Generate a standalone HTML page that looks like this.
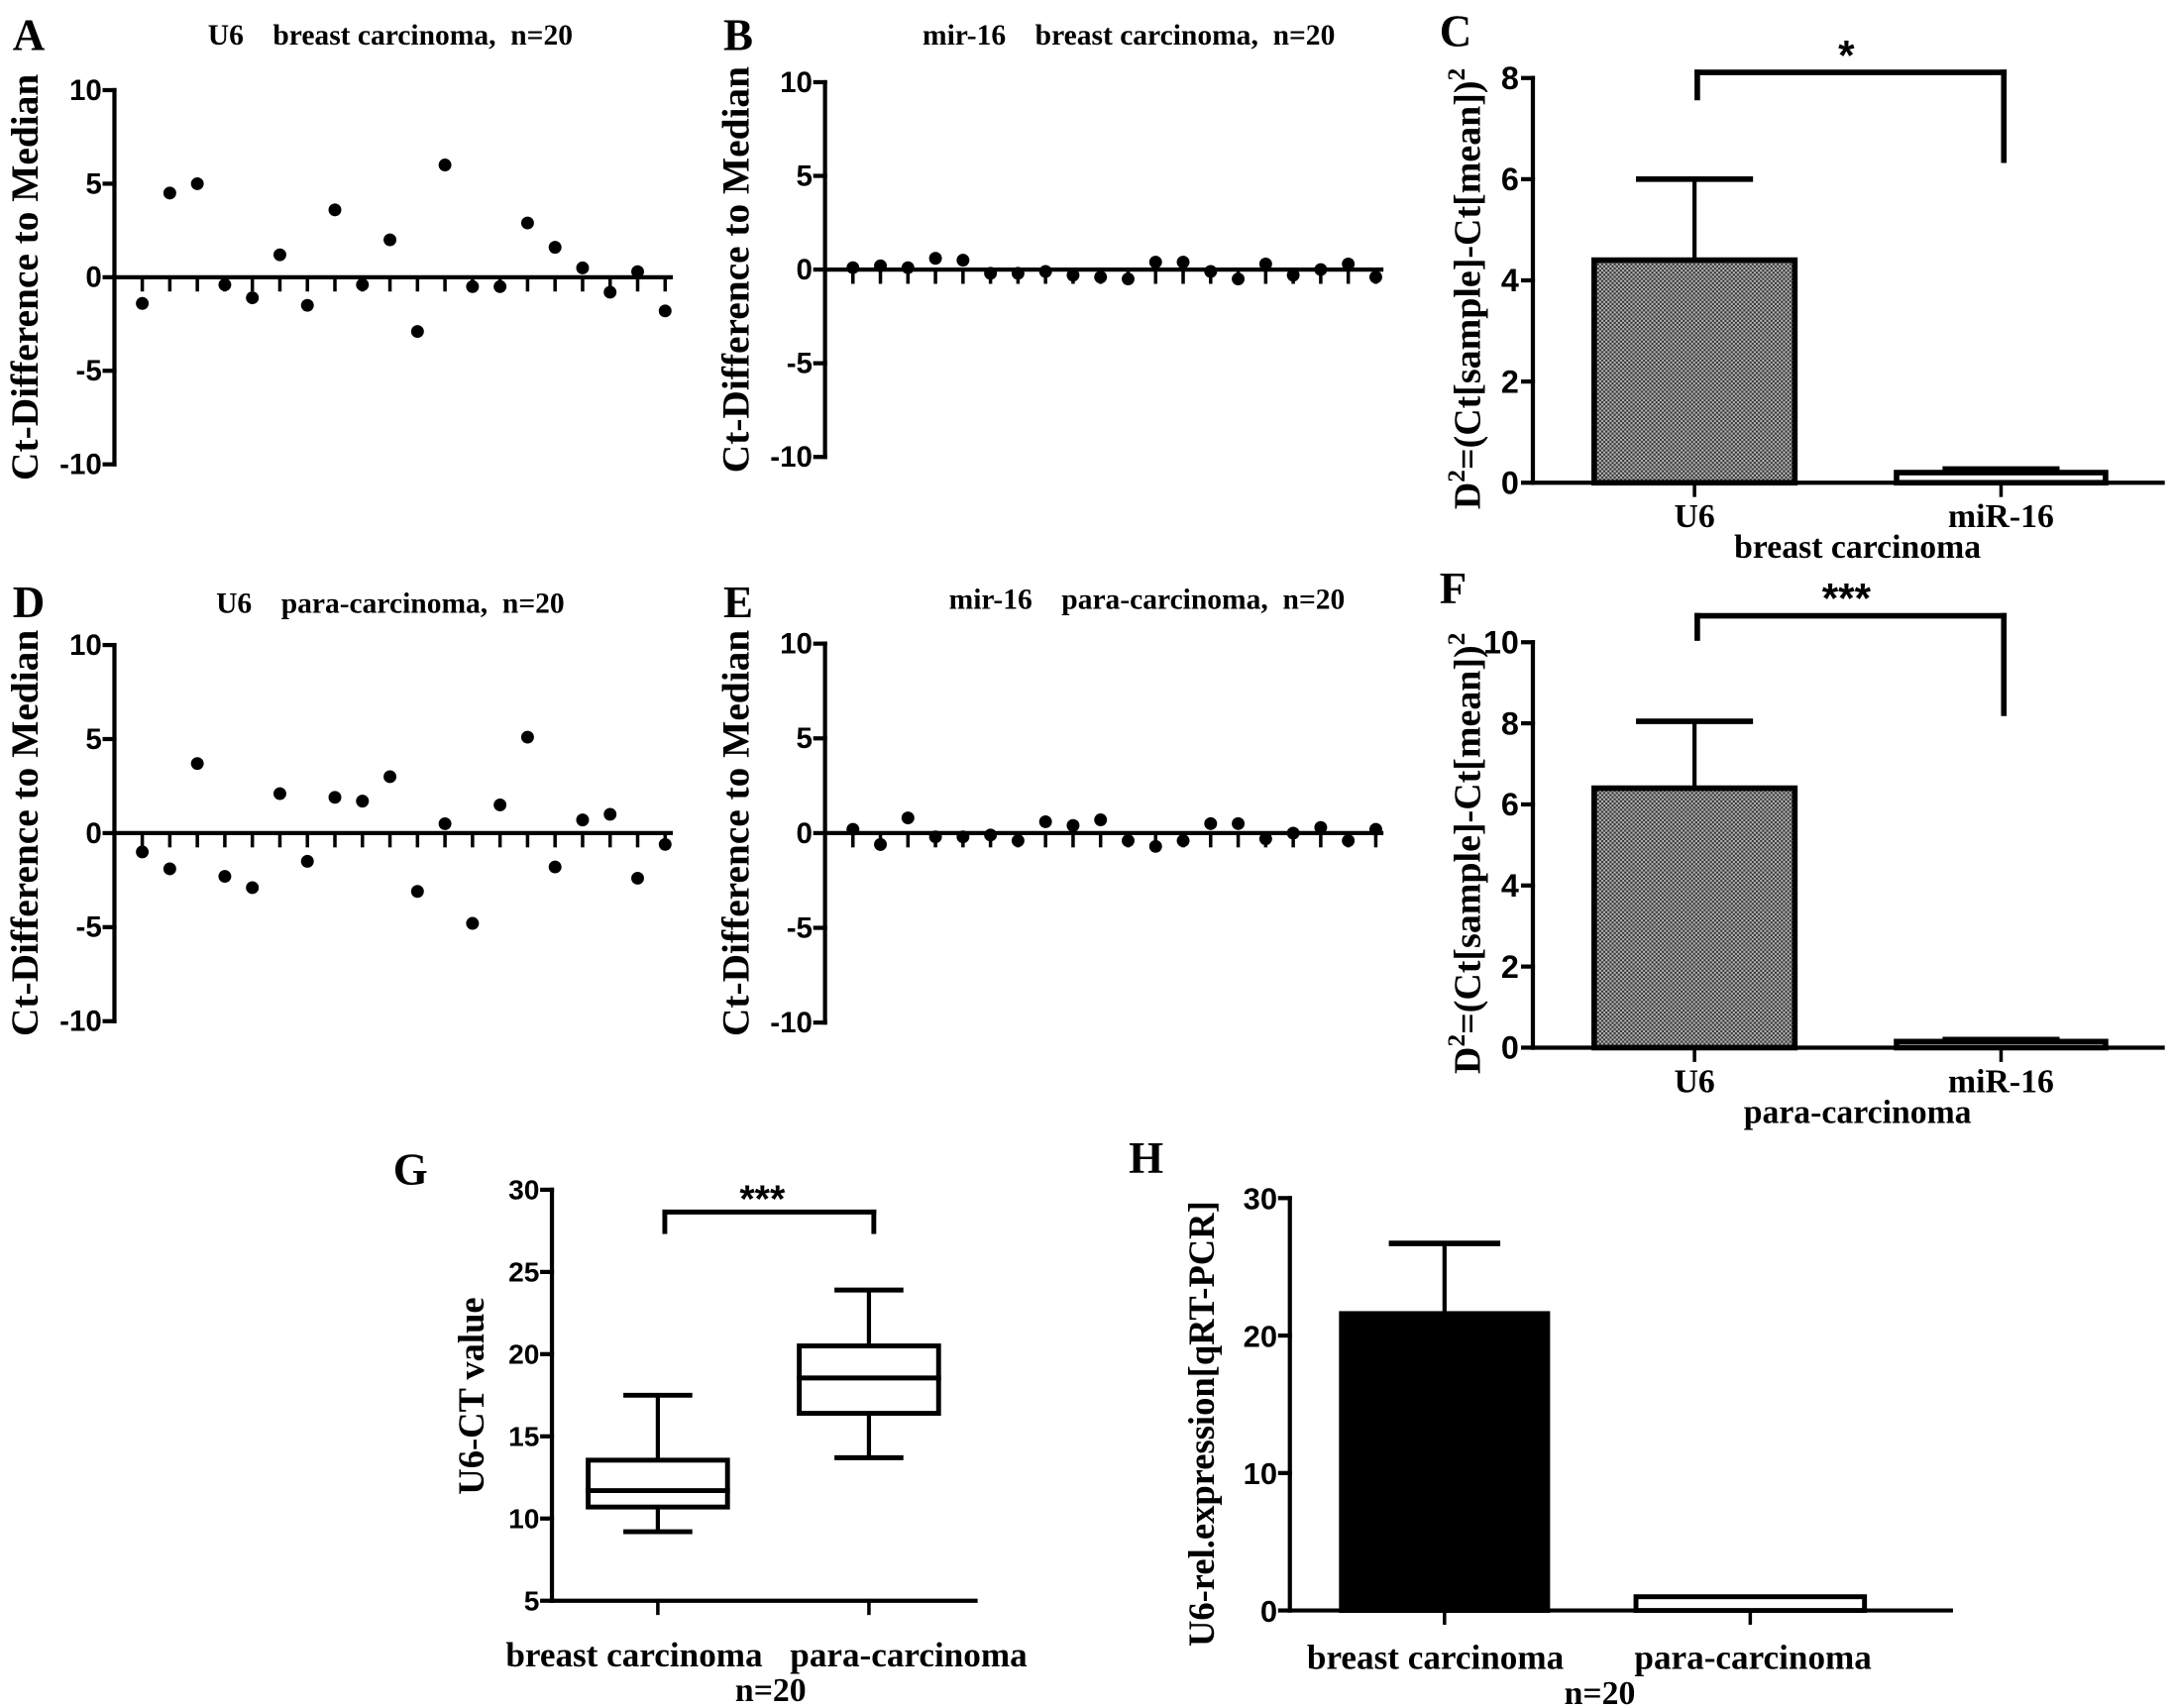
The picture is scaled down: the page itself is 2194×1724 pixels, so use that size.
<!DOCTYPE html>
<html><head><meta charset="utf-8"><style>
html,body{margin:0;padding:0;background:#fff}
svg{display:block}
.s{font-family:"Liberation Serif",serif;font-weight:bold}
.a{font-family:"Liberation Sans",sans-serif;font-weight:bold}
.pre{white-space:pre}
</style></head><body>
<svg id="fig" width="2194" height="1724" viewBox="0 0 1560 1226" xmlns="http://www.w3.org/2000/svg">
<rect width="1560" height="1226" fill="#fff"/>
</svg>
<script>
const valsA = [-1.4, 4.5, 5.0, -0.4, -1.1, 1.2, -1.5, 3.6, -0.4, 2.0, -2.9, 6.0, -0.5, -0.5, 2.9, 1.6, 0.5, -0.8, 0.3, -1.8];
const valsB = [0.1, 0.2, 0.1, 0.6, 0.5, -0.2, -0.2, -0.1, -0.3, -0.4, -0.5, 0.4, 0.4, -0.1, -0.5, 0.3, -0.3, 0.0, 0.3, -0.4];
const valsD = [-1.0, -1.9, 3.7, -2.3, -2.9, 2.1, -1.5, 1.9, 1.7, 3.0, -3.1, 0.5, -4.8, 1.5, 5.1, -1.8, 0.7, 1.0, -2.4, -0.6];
const valsE = [0.2, -0.6, 0.8, -0.2, -0.2, -0.1, -0.4, 0.6, 0.4, 0.7, -0.4, -0.7, -0.4, 0.5, 0.5, -0.3, 0.0, 0.3, -0.4, 0.2];
const scatterTicks = [10, 5, 0, -5, -10];
const barCatsCF = ["U6", "miR-16"];
const barC = [4.4, 0.2];
const errC = [6.0, 0.27];
const ticksC = [0, 2, 4, 6, 8];
const barF = [6.4, 0.15];
const errF = [8.05, 0.2];
const ticksF = [0, 2, 4, 6, 8, 10];
const boxCats = ["breast carcinoma", "para-carcinoma"];
const boxMin = [9.2, 13.7];
const boxQ1 = [10.7, 16.4];
const boxMed = [11.7, 18.55];
const boxQ3 = [13.55, 20.5];
const boxMax = [17.5, 23.9];
const ticksG = [5, 10, 15, 20, 25, 30];
const barH = [21.6, 1.0];
const errH = [26.7, 1.0];
const ticksH = [0, 10, 20, 30];

const NS = "http://www.w3.org/2000/svg";
const svg = document.getElementById('fig');
function mk(tag, attrs, parent, text) {
  const e = document.createElementNS(NS, tag);
  for (const k in attrs) e.setAttribute(k, attrs[k]);
  if (text !== undefined) e.textContent = text;
  (parent || svg).appendChild(e);
  return e;
}
function line(g, x1, y1, x2, y2, w) {
  return mk('line', {x1, y1, x2, y2, stroke: '#000', 'stroke-width': w || 3, 'stroke-linecap': 'square'}, g);
}
function txt(g, x, y, s, cls, size, anchor, rot) {
  const a = {x, y, class: cls, 'font-size': size, 'text-anchor': anchor || 'middle', fill: '#000'};
  if (rot) a.transform = `rotate(-90 ${x} ${y})`;
  return mk('text', a, g, s);
}
function scale(v0, v1, p0, p1) { return v => p0 + (v - v0) * (p1 - p0) / (v1 - v0); }

function scatter(name, vals, ax, yTop, y0, letter, title, titleX, titleY, letterY) {
  const g = mk('g', {});
  
  
  const y = scale(0, 10, y0, yTop);
  const yBot = y(-10);
  const step = 19.75;
  const x = i => ax + 20 + i * step;
  line(g, ax, yTop, ax, yBot);
  const xEnd = x(vals.length - 1) + 4;
  line(g, ax, y0, xEnd, y0);
  scatterTicks.forEach(t => {
    line(g, ax - 7, y(t), ax, y(t));
    const lb = txt(g, ax - 9, y(t) + 7, String(t), 'a', 21, 'end');
    
    
  });
  vals.forEach((v, i) => {
    line(g, x(i), y0, x(i), y0 + 9, 2.5);
    const c = mk('circle', {cx: x(i), cy: y(v), r: 4.6, fill: '#000'}, g);
    
    
  });
  const yl = txt(g, ax - 55, (yTop + yBot) / 2, 'Ct-Difference to Median', 's', 28, 'middle', true);
  
  
  const l = txt(g, ax - 73, letterY, letter, 's', 32, 'start');
  
  
  const t = txt(g, titleX, titleY, title, 's pre', 21, 'middle');
  
  
}
scatter('panel-a', valsA, 82, 64.7, 199, 'A', 'U6    breast carcinoma,  n=20', 280, 32, 36);
scatter('panel-b', valsB, 592, 59, 193.5, 'B', 'mir-16    breast carcinoma,  n=20', 810, 32, 36);
scatter('panel-d', valsD, 82, 463, 598, 'D', 'U6    para-carcinoma,  n=20', 280, 440, 443);
scatter('panel-e', valsE, 592, 462, 598, 'E', 'mir-16    para-carcinoma,  n=20', 823, 437, 443);

const defs = mk('defs', {});
const pat = mk('pattern', {id: 'dots', width: 3, height: 3, patternUnits: 'userSpaceOnUse'}, defs);
mk('rect', {width: 3, height: 3, fill: '#b8b8b8'}, pat);
mk('rect', {width: 1.5, height: 1.5, fill: '#333'}, pat);
mk('rect', {x: 1.5, y: 1.5, width: 1.5, height: 1.5, fill: '#333'}, pat);

function barPanel(name, vals, errs, ticks, yTopV, ax, yTop, y0, letter, letterY, group, bracket, stars) {
  const g = mk('g', {});
  
  
  const y = scale(0, yTopV, y0, yTop);
  line(g, ax, yTop, ax, y0);
  line(g, ax, y0, 1552, y0);
  ticks.forEach(t => {
    line(g, ax - 7, y(t), ax, y(t));
    const lb = txt(g, ax - 10, y(t) + 8, String(t), 'a', 23, 'end');
    
    
  });
  const cx = [1216, 1436], hw = [72, 75];
  vals.forEach((v, i) => {
    line(g, cx[i], y0, cx[i], y0 + 9, 2.5);
    line(g, cx[i], y(v), cx[i], y(errs[i]), 3);
    line(g, cx[i] - 40, y(errs[i]), cx[i] + 40, y(errs[i]), 4);
    const r = mk('rect', {x: cx[i] - hw[i], y: y(v), width: hw[i] * 2, height: y0 - y(v), fill: i === 0 ? 'url(#dots)' : '#fff', stroke: '#000', 'stroke-width': 4}, g);
    
    
    const lb = txt(g, cx[i], y0 + 32, barCatsCF[i], 's', 24);
    
    
  });
  const gl = txt(g, 1333, y0 + 54, group, 's', 24);
  
  
  line(g, 1218, bracket[0], 1438, bracket[0], 4);
  line(g, 1218, bracket[0], 1218, bracket[1], 4);
  line(g, 1438, bracket[0], 1438, bracket[2], 4);
  const st = txt(g, 1325, bracket[0] - 2, stars, 'a', 30);
  
  
  const cy = (yTop + y0) / 2 + 6;
  const yl = mk('text', {x: 1062, y: cy, class: 's', 'font-size': 27, 'text-anchor': 'middle', transform: `rotate(-90 1062 ${cy})`}, g);
  
  
  mk('tspan', {}, yl, 'D');
  mk('tspan', {dy: -11, 'font-size': 18}, yl, '2');
  mk('tspan', {dy: 11}, yl, '=(Ct[sample]-Ct[mean])');
  mk('tspan', {dy: -11, 'font-size': 18}, yl, '2');
  const l = txt(g, 1033, letterY, letter, 's', 32, 'start');
  
  
}
barPanel('panel-c', barC, errC, ticksC, 8, 1100, 56, 346.5, 'C', 33, 'breast carcinoma', [52, 70, 115], '*');
barPanel('panel-f', barF, errF, ticksF, 10, 1100, 461, 752, 'F', 433, 'para-carcinoma', [442, 458, 512], '***');

(function () {
  const g = mk('g', {});
  
  
  const ax = 396, y = scale(5, 30, 1149, 854);
  line(g, ax, y(30), ax, y(5));
  line(g, ax, y(5), 700, y(5));
  ticksG.forEach(t => {
    line(g, ax - 7, y(t), ax, y(t));
    const lb = txt(g, ax - 9, y(t) + 7, String(t), 'a', 20, 'end');
    
    
  });
  const cx = [472, 623.5], hw = 50, cw = 23;
  boxCats.forEach((c, i) => {
    line(g, cx[i], y(5), cx[i], y(5) + 9, 2.5);
    line(g, cx[i], y(boxMin[i]), cx[i], y(boxMax[i]), 3);
    line(g, cx[i] - cw, y(boxMin[i]), cx[i] + cw, y(boxMin[i]), 3.5);
    line(g, cx[i] - cw, y(boxMax[i]), cx[i] + cw, y(boxMax[i]), 3.5);
    const b = mk('rect', {x: cx[i] - hw, y: y(boxQ3[i]), width: hw * 2, height: y(boxQ1[i]) - y(boxQ3[i]), fill: '#fff', stroke: '#000', 'stroke-width': 3.5}, g);
    
    
    line(g, cx[i] - hw, y(boxMed[i]), cx[i] + hw, y(boxMed[i]), 3.5);
    const lb = txt(g, i === 0 ? 455 : 652, 1196, c, 's', 25);
    
    
  });
  const n = txt(g, 553, 1221, 'n=20', 's', 24);
  
  
  line(g, 477, 870, 627, 870, 3.5);
  line(g, 477, 870, 477, 884, 3.5);
  line(g, 627, 870, 627, 884, 3.5);
  const st = txt(g, 547, 870, '***', 'a', 28);
  
  
  const yl = txt(g, 347, 1002, 'U6-CT value', 's', 26, 'middle', true);
  
  
  const l = txt(g, 282, 850, 'G', 's', 32, 'start');
  
  
})();

(function () {
  const g = mk('g', {});
  
  
  const ax = 925.6, y = scale(0, 30, 1156, 860);
  line(g, ax, y(30), ax, y(0));
  line(g, ax, y(0), 1400, y(0));
  ticksH.forEach(t => {
    line(g, ax - 7, y(t), ax, y(t));
    const lb = txt(g, ax - 9, y(t) + 8, String(t), 'a', 22, 'end');
    
    
  });
  const cx = [1036.6, 1256], hw = [74, 82];
  boxCats.forEach((c, i) => {
    line(g, cx[i], y(0), cx[i], y(0) + 9, 2.5);
    line(g, cx[i], y(barH[i]), cx[i], y(errH[i]), 3);
    if (i === 0) line(g, cx[i] - 38, y(errH[i]), cx[i] + 38, y(errH[i]), 4);
    const r = mk('rect', {x: cx[i] - hw[i], y: y(barH[i]), width: hw[i] * 2, height: y(0) - y(barH[i]), fill: i === 0 ? '#000' : '#fff', stroke: '#000', 'stroke-width': 3.5}, g);
    
    
    const lb = txt(g, i === 0 ? 1030 : 1258, 1198, c, 's', 25);
    
    
  });
  const n = txt(g, 1148, 1223, 'n=20', 's', 24);
  
  
  const yl = txt(g, 871, 1022, 'U6-rel.expression[qRT-PCR]', 's', 26, 'middle', true);
  
  
  const l = txt(g, 810, 842, 'H', 's', 32, 'start');
  
  
})();
</script>
</body></html>
